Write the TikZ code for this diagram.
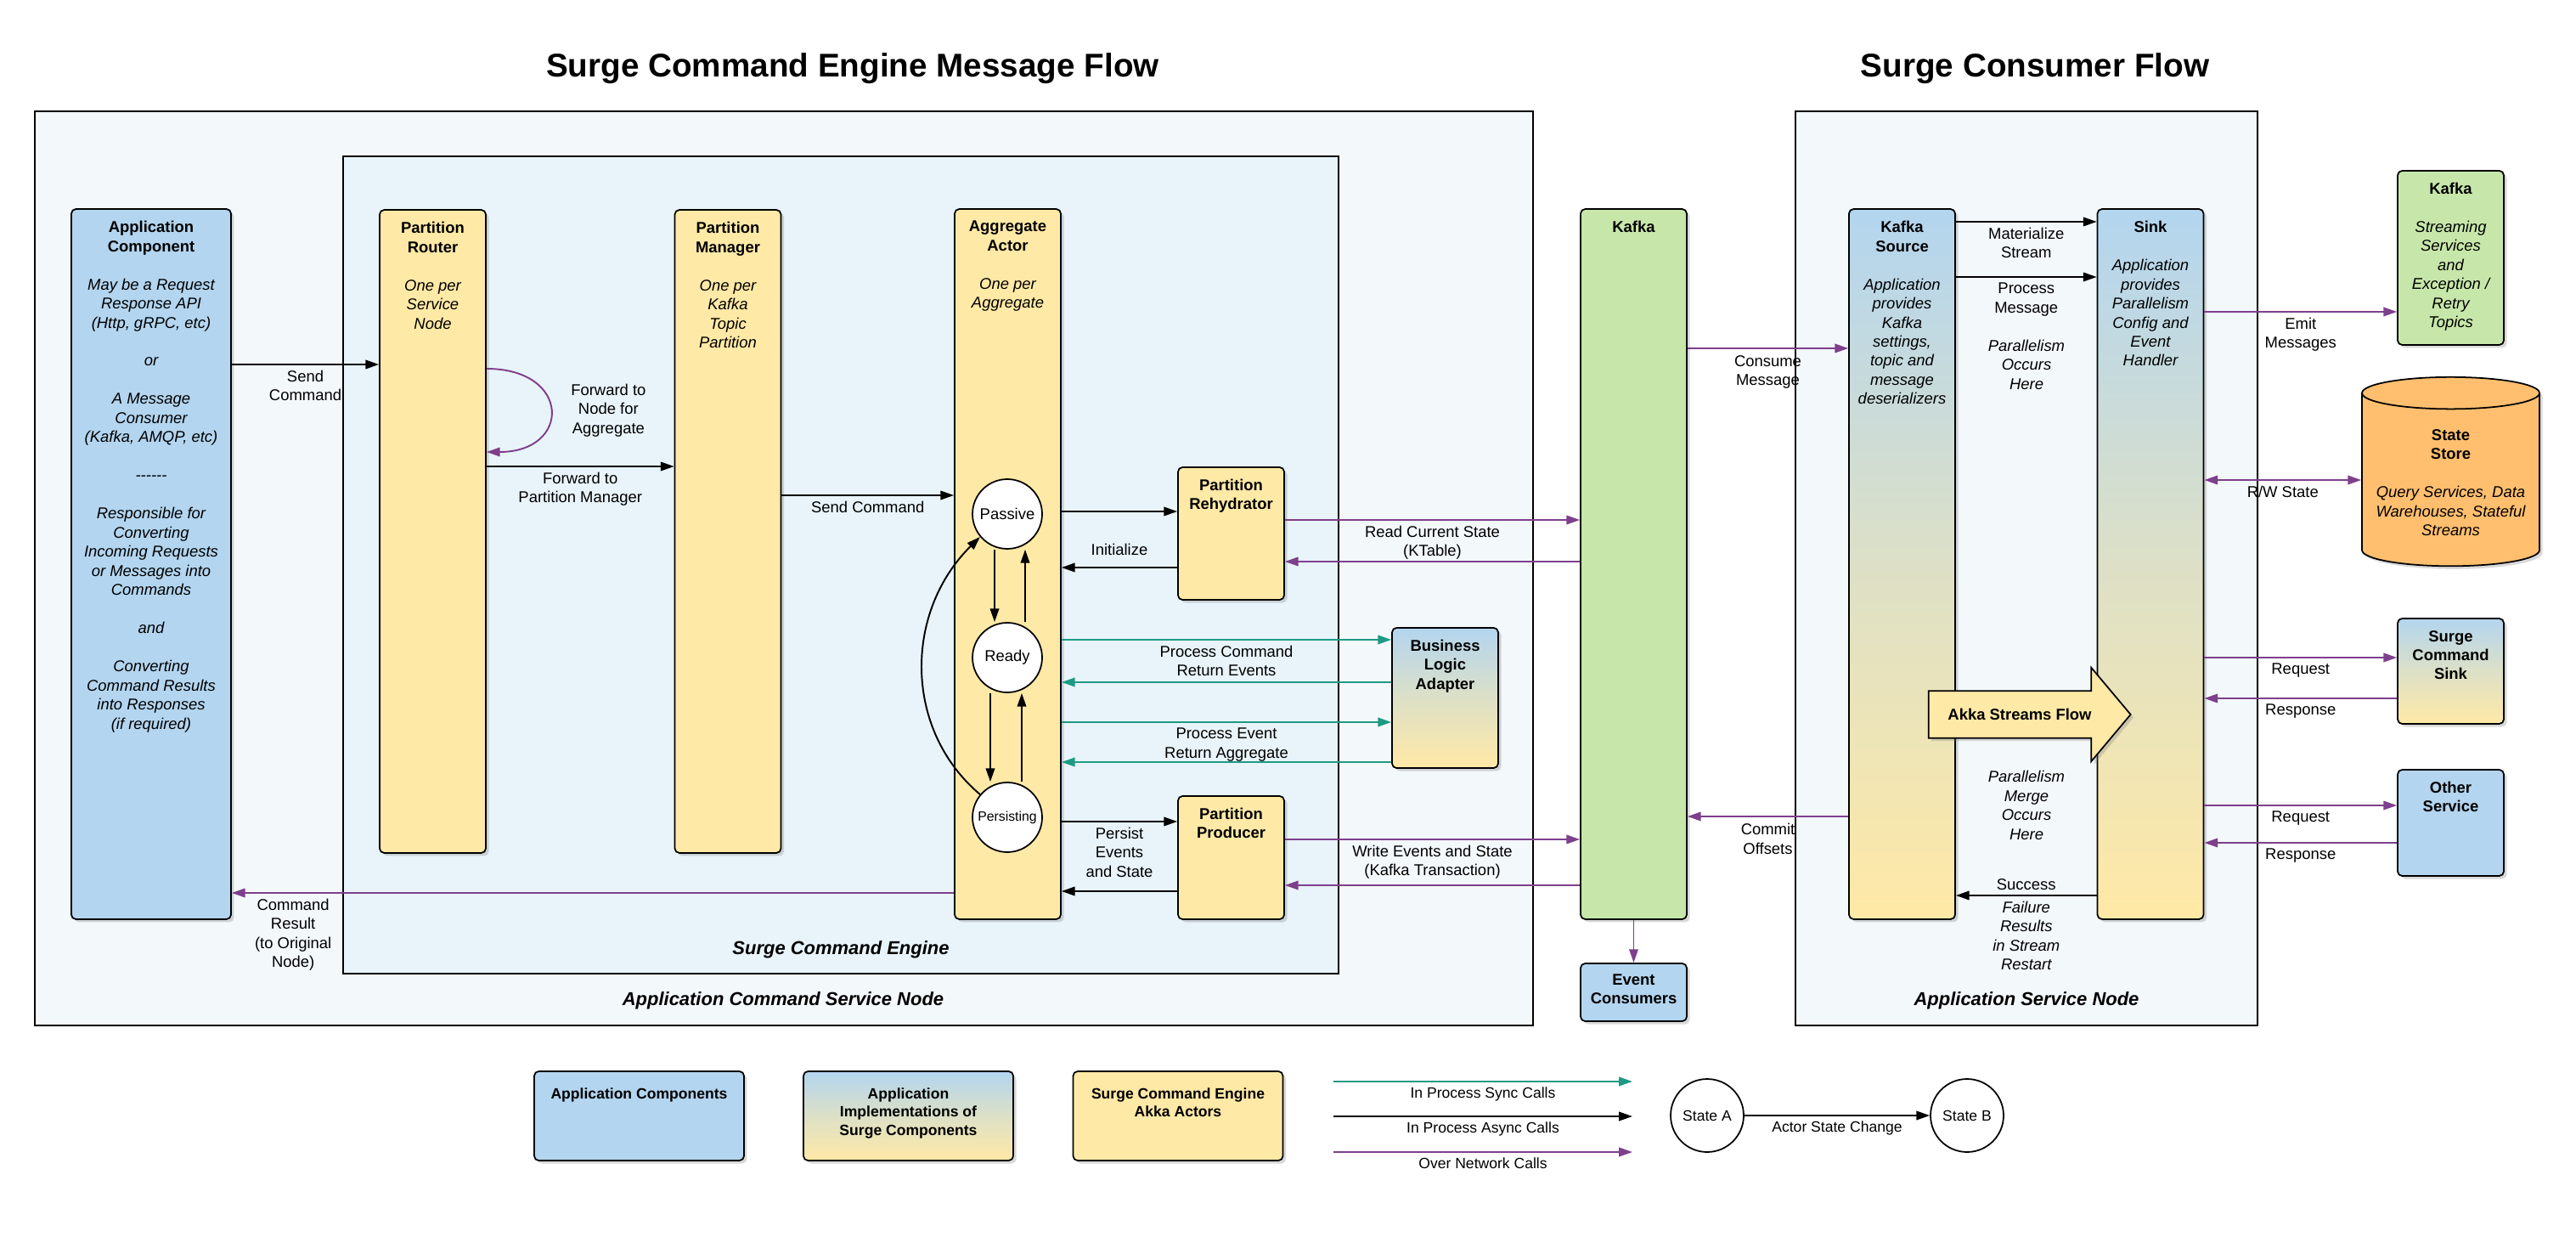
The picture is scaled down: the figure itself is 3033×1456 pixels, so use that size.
\documentclass[tikz,border=0pt]{standalone}
\usepackage{fontspec}
\setmainfont{Liberation Sans}
\usepackage{tikz}
\usetikzlibrary{arrows.meta,shapes.geometric,shapes.arrows,shadows,positioning}

\definecolor{appblue}{HTML}{B3D5EF}
\definecolor{actyellow}{HTML}{FFE9A6}
\definecolor{kafkagreen}{HTML}{C7E7AA}
\definecolor{storeorange}{HTML}{FFBF6F}
\definecolor{netpurple}{HTML}{7E3F8C}
\definecolor{syncteal}{HTML}{1E9A84}
\definecolor{nodebg}{HTML}{F3F8FB}
\definecolor{enginebg}{HTML}{E8F4FA}

\newcommand\bodysize{\fontsize{10.5}{12.8}\selectfont}
\newcommand\legendsize{\fontsize{10}{12.2}\selectfont}

\begin{document}
\begin{tikzpicture}[x=0.02cm,y=-0.02cm,>={Triangle[length=9pt,width=6pt]},
    lane/.style={draw=black,line width=1pt,rounded corners=3pt,minimum width=2.5cm,
      drop shadow={opacity=0.3,shadow xshift=2pt,shadow yshift=-2pt}},
    lanetext/.style={anchor=north,align=center,font=\bodysize,yshift=-5pt},
    state/.style={circle,draw=black,line width=1pt,fill=white,minimum size=1.64cm,inner sep=0pt,font=\bodysize},
    lbl/.style={align=center,font=\bodysize},
    async/.style={->,draw=black,line width=1.1pt},
    sync/.style={->,draw=syncteal,line width=1.1pt},
    net/.style={->,draw=netpurple,line width=1.1pt},
    mixed/.style={top color=appblue,bottom color=actyellow,middle color=actyellow!55!appblue},
    frametitle/.style={font=\fontsize{12.5}{15}\selectfont\bfseries\itshape}]
    \useasboundingbox (0,0) rectangle (3033,1456);

    % frames
    \draw[line width=1pt,fill=nodebg] (41,131) rectangle (1805,1207);
    \draw[line width=1pt,fill=enginebg] (404,184) rectangle (1576,1146);
    \draw[line width=1pt,fill=nodebg] (2114,131) rectangle (2658,1207);
    \node[font=\fontsize{22}{26}\selectfont\bfseries] (title1) at (1004,81) {Surge Command Engine Message Flow};
    \node[font=\fontsize{22}{26}\selectfont\bfseries] (title2) at (2396,81) {Surge Consumer Flow};
    \node[frametitle] (enginelbl) at (990,1118) {Surge Command Engine};
    \node[frametitle] (cmdnodelbl) at (922,1178) {Application Command Service Node};
    \node[frametitle] (svcnodelbl) at (2386,1178) {Application Service Node};

    % command engine lanes
    \node[lane,fill=appblue,minimum width=3.76cm,minimum height=16.72cm,
      label={[lanetext]north:{\textbf{Application}\\\textbf{Component}\\[12.8pt]
        \itshape May be a Request\\\itshape Response API\\\itshape (Http, gRPC, etc)\\[12.8pt]
        \itshape or\\[12.8pt]\itshape A Message\\\itshape Consumer\\\itshape (Kafka, AMQP, etc)\\[12.8pt]
        \itshape -{}-{}-{}-{}-{}-\\[12.8pt]\itshape Responsible for\\\itshape Converting\\\itshape Incoming Requests\\
        \itshape or Messages into\\\itshape Commands\\[12.8pt]\itshape and\\[12.8pt]
        \itshape Converting\\\itshape Command Results\\\itshape into Responses\\\itshape (if required)}}]
      (app) at (178,664) {};
    \node[lane,fill=actyellow,minimum height=15.14cm,
      label={[lanetext]north:{\textbf{Partition}\\\textbf{Router}\\[12.8pt]\itshape One per\\\itshape Service\\\itshape Node}}]
      (router) at (509.5,625.5) {};
    \node[lane,fill=actyellow,minimum height=15.14cm,
      label={[lanetext]north:{\textbf{Partition}\\\textbf{Manager}\\[12.8pt]\itshape One per\\\itshape Kafka\\\itshape Topic\\\itshape Partition}}]
      (manager) at (857,625.5) {};
    \node[lane,fill=actyellow,minimum height=16.72cm,
      label={[lanetext]north:{\textbf{Aggregate}\\\textbf{Actor}\\[12.8pt]\itshape One per\\\itshape Aggregate}}]
      (aggregate) at (1186.5,664) {};
    \node[lane,fill=actyellow,minimum height=3.12cm,
      label={[lanetext]north:{\textbf{Partition}\\\textbf{Rehydrator}}}] (rehydrator) at (1449.5,628) {};
    \node[lane,mixed,minimum height=3.3cm,
      label={[lanetext]north:{\textbf{Business}\\\textbf{Logic}\\\textbf{Adapter}}}] (adapter) at (1701.5,821.5) {};
    \node[lane,fill=actyellow,minimum height=2.9cm,
      label={[lanetext]north:{\textbf{Partition}\\\textbf{Producer}}}] (producer) at (1449.5,1009.5) {};
    \node[lane,fill=kafkagreen,minimum height=16.72cm,
      label={[lanetext]north:{\textbf{Kafka}}}] (kafka) at (1923.5,664) {};
    \node[lane,fill=appblue,minimum height=1.36cm,
      label={[lanetext,yshift=1pt]north:{\textbf{Event}\\\textbf{Consumers}}}] (consumers) at (1923.5,1168) {};

    % actor states
    \node[state] (passive) at (1186,605) {Passive};
    \node[state] (ready) at (1186,774) {Ready};
    \node[state,font=\fontsize{9}{11}\selectfont] (persisting) at (1186,962) {Persisting};

    % consumer lanes
    \node[lane,mixed,minimum height=16.72cm,
      label={[lanetext]north:{\textbf{Kafka}\\\textbf{Source}\\[12.8pt]\itshape Application\\\itshape provides\\
        \itshape Kafka\\\itshape settings,\\\itshape topic and\\\itshape message\\\itshape deserializers}}]
      (source) at (2239.5,664) {};
    \node[lane,mixed,minimum height=16.72cm,
      label={[lanetext]north:{\textbf{Sink}\\[12.8pt]\itshape Application\\\itshape provides\\\itshape Parallelism\\
        \itshape Config and\\\itshape Event\\\itshape Handler}}]
      (sink) at (2532,664) {};
    \node[lane,fill=kafkagreen,minimum height=4.1cm,
      label={[lanetext]north:{\textbf{Kafka}\\[12.8pt]\itshape Streaming\\\itshape Services\\\itshape and\\
        \itshape Exception /\\\itshape Retry\\\itshape Topics}}] (kafkaout) at (2885.5,303.5) {};
    \node[cylinder,shape border rotate=90,aspect=0.2,draw=black,line width=1pt,fill=storeorange,
      minimum width=4.18cm,minimum height=4.45cm,align=center,font=\bodysize,
      drop shadow={opacity=0.3,shadow xshift=2pt,shadow yshift=-2pt}]
      (store) at (2885.5,568) {\textbf{State}\\\textbf{Store}\\[12.8pt]\itshape Query Services, Data\\
        \itshape Warehouses, Stateful\\\itshape Streams};
    \node[lane,mixed,minimum height=2.48cm,
      label={[lanetext]north:{\textbf{Surge}\\\textbf{Command}\\\textbf{Sink}}}] (cmdsink) at (2885.5,790) {};
    \node[lane,fill=appblue,minimum height=2.5cm,
      label={[lanetext]north:{\textbf{Other}\\\textbf{Service}}}] (other) at (2885.5,968.5) {};
    \node[single arrow,draw=black,line width=1pt,fill=actyellow,minimum height=4.76cm,
      inner ysep=0.4cm,single arrow head extend=0.55cm,single arrow tip angle=100,
      font=\bodysize\bfseries,drop shadow={opacity=0.3,shadow xshift=2pt,shadow yshift=-2pt}]
      (akkaflow) at (2378,841) {Akka Streams Flow};
    \node[lbl,font=\bodysize\itshape] (parocc) at (2386,429) {Parallelism\\Occurs\\Here};
    \node[lbl,font=\bodysize\itshape] (parmerge) at (2386,948) {Parallelism\\Merge\\Occurs\\Here};

    % command engine connectors
    \draw[async] (app.east |- 0,429) -- node[lbl,below] {Send\\Command} (router.west |- 0,429);
    \draw[net] (router.east |- 0,434) .. controls +(100,0) and +(100,0) .. (router.east |- 0,532)
      node[lbl,right,pos=0.5,xshift=10pt] {Forward to\\Node for\\Aggregate};
    \draw[async] (router.east |- 0,549) -- node[lbl,below] {Forward to\\Partition Manager} (manager.west |- 0,549);
    \draw[async] (manager.east |- 0,583) -- node[lbl,below] {Send Command} (aggregate.west |- 0,583);
    \draw[net] (aggregate.west |- 0,1051) -- node[lbl,below,pos=0.915] {Command\\Result\\(to Original\\Node)} (app.east |- 0,1051);
    \draw[async] (passive.south -| 1171,0) -- (ready.north -| 1171,0);
    \draw[async] (ready.north -| 1207,0) -- (passive.south -| 1207,0);
    \draw[async] (ready.south -| 1166,0) -- (persisting.north -| 1166,0);
    \draw[async] (persisting.north -| 1203,0) -- (ready.south -| 1203,0);
    \draw[async] (persisting.140) .. controls +(-90,-76) and +(-90,89) .. (passive.220);
    \draw[async] (aggregate.east |- 0,602) -- (rehydrator.west |- 0,602);
    \draw[async] (rehydrator.west |- 0,668) -- node[lbl,above=4pt] {Initialize} (aggregate.east |- 0,668);
    \draw[sync] (aggregate.east |- 0,753) -- node[lbl,below] {Process Command\\Return Events} (adapter.west |- 0,753);
    \draw[sync] (adapter.west |- 0,803) -- (aggregate.east |- 0,803);
    \draw[sync] (aggregate.east |- 0,850) -- node[lbl,below] {Process Event\\Return Aggregate} (adapter.west |- 0,850);
    \draw[sync] (adapter.west |- 0,897) -- (aggregate.east |- 0,897);
    \draw[async] (aggregate.east |- 0,967) -- node[lbl,below] {Persist\\Events\\and State} (producer.west |- 0,967);
    \draw[async] (producer.west |- 0,1049) -- (aggregate.east |- 0,1049);
    \draw[net] (rehydrator.east |- 0,612) -- node[lbl,below] {Read Current State\\(KTable)} (kafka.west |- 0,612);
    \draw[net] (kafka.west |- 0,661) -- (rehydrator.east |- 0,661);
    \draw[net] (producer.east |- 0,988) -- node[lbl,below] {Write Events and State\\(Kafka Transaction)} (kafka.west |- 0,988);
    \draw[net] (kafka.west |- 0,1042) -- (producer.east |- 0,1042);
    \draw[net] (kafka.south) -- (consumers.north);

    % consumer connectors
    \draw[net] (kafka.east |- 0,410) -- node[lbl,below=1pt] {Consume\\Message} (source.west |- 0,410);
    \draw[net] (source.west |- 0,961) -- node[lbl,below=1pt] {Commit\\Offsets} (kafka.east |- 0,961);
    \draw[async] (source.east |- 0,261) -- node[lbl,below] {Materialize\\Stream} (sink.west |- 0,261);
    \draw[async] (source.east |- 0,326) -- node[lbl,below] {Process\\Message} (sink.west |- 0,326);
    \draw[async] (sink.west |- 0,1054) -- node[lbl,above] {Success}
      node[lbl,below,font=\bodysize\itshape] {Failure\\Results\\in Stream\\Restart} (source.east |- 0,1054);
    \draw[net] (sink.east |- 0,367) -- node[lbl,below] {Emit\\Messages} (kafkaout.west |- 0,367);
    \draw[net,<->] (sink.east |- 0,565) -- node[lbl,below] {R/W State} (store.west |- 0,565);
    \draw[net] (sink.east |- 0,774) -- node[lbl,below] {Request} (cmdsink.west |- 0,774);
    \draw[net] (cmdsink.west |- 0,822) -- node[lbl,below] {Response} (sink.east |- 0,822);
    \draw[net] (sink.east |- 0,948) -- node[lbl,below] {Request} (other.west |- 0,948);
    \draw[net] (other.west |- 0,992) -- node[lbl,below] {Response} (sink.east |- 0,992);

    % legend
    \tikzset{legendbox/.style={lane,minimum width=4.94cm,minimum height=2.1cm},
      legendtext/.style={lanetext,font=\legendsize\bfseries,yshift=-3pt}}
    \node[legendbox,fill=appblue,label={[legendtext]north:{Application Components}}] (lgapp) at (752.5,1313.5) {};
    \node[legendbox,mixed,label={[legendtext]north:{Application\\Implementations of\\Surge Components}}] (lgimpl) at (1069.5,1313.5) {};
    \node[legendbox,fill=actyellow,label={[legendtext]north:{Surge Command Engine\\Akka Actors}}] (lgactor) at (1387,1313.5) {};
    \coordinate (syncA) at (1570,1273);  \coordinate (syncB) at (1922,1273);
    \coordinate (asyncA) at (1570,1314); \coordinate (asyncB) at (1922,1314);
    \coordinate (netA) at (1570,1356);   \coordinate (netB) at (1922,1356);
    \draw[sync] (syncA) -- node[lbl,below,font=\legendsize] {In Process Sync Calls} (syncB);
    \draw[async] (asyncA) -- node[lbl,below,font=\legendsize] {In Process Async Calls} (asyncB);
    \draw[net] (netA) -- node[lbl,below,font=\legendsize] {Over Network Calls} (netB);
    \node[state,minimum size=1.72cm,font=\legendsize] (stateA) at (2010,1313) {State A};
    \node[state,minimum size=1.72cm,font=\legendsize] (stateB) at (2316,1313) {State B};
    \draw[async] (stateA) -- node[lbl,below,font=\legendsize] {Actor State Change} (stateB);
\end{tikzpicture}
\end{document}
